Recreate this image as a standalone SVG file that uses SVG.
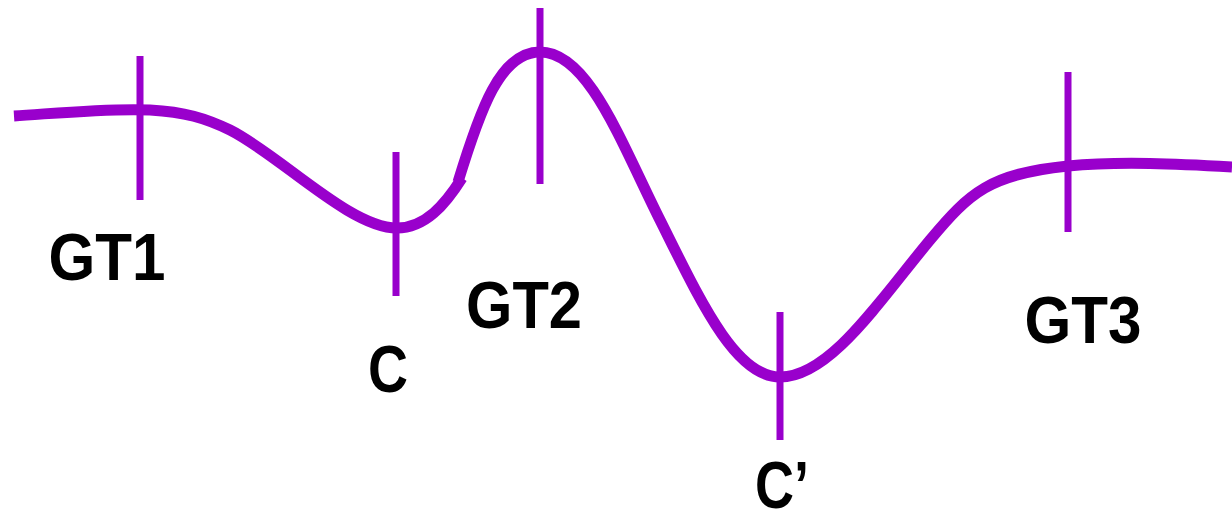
<svg xmlns="http://www.w3.org/2000/svg" width="1232" height="522" viewBox="0 0 1232 522">
<style>
.curve{fill:none;stroke:#9900CC;stroke-width:11}
.tick{stroke:#9900CC;stroke-width:7}
.lbl{font-family:"Liberation Sans",Arial,sans-serif;font-weight:bold;font-size:66px;fill:#000;text-anchor:middle}
</style>
<rect width="1232" height="522" fill="#fff"/>
<g id="connectors">
<path class="curve" d="M14,116 C60,113 110,108 150,110 C185,112 205,118 230,130 C280,155 350,228 397,228 C425,228 445,205 462,178"/>
<path class="curve" d="M458,182 C480,110 500,52 540,52 C588,52 620,140 660,220 C700,300 735,377 780,377 C830,377 880,300 930,240 C970,192 990,174 1068,166 C1120,161 1180,164 1232,167"/>
</g>
<g id="GT1"><line class="tick" x1="140" y1="56" x2="140" y2="200"/><text class="lbl" x="107" y="280" textLength="117" lengthAdjust="spacingAndGlyphs">GT1</text></g>
<g id="C"><line class="tick" x1="396" y1="152" x2="396" y2="296"/><text class="lbl" x="388" y="392" textLength="40" lengthAdjust="spacingAndGlyphs">C</text></g>
<g id="GT2"><line class="tick" x1="540" y1="8" x2="540" y2="184"/><text class="lbl" x="524" y="328" textLength="116" lengthAdjust="spacingAndGlyphs">GT2</text></g>
<g id="Cprime"><line class="tick" x1="780" y1="312" x2="780" y2="440"/><text class="lbl" x="782" y="508" textLength="54" lengthAdjust="spacingAndGlyphs">C’</text></g>
<g id="GT3"><line class="tick" x1="1068" y1="72" x2="1068" y2="232"/><text class="lbl" x="1083" y="343" textLength="117" lengthAdjust="spacingAndGlyphs">GT3</text></g>
</svg>
